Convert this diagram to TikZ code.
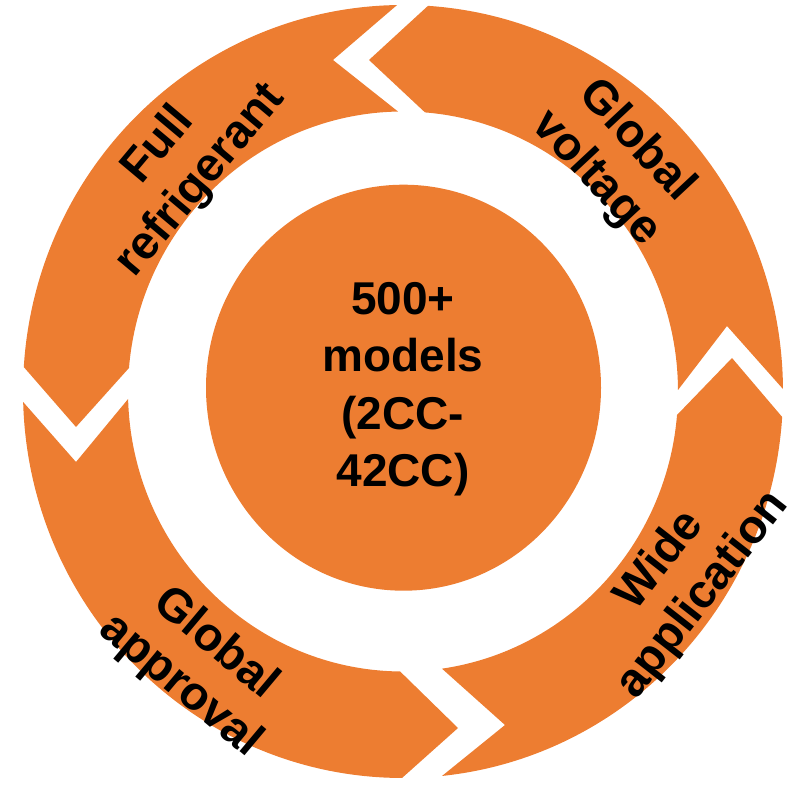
\documentclass[tikz,border=0pt]{standalone}
\usepackage{fontspec}
\setmainfont{Liberation Sans}
\definecolor{segorange}{HTML}{ED7D31}
\begin{document}
\begin{tikzpicture}[x=1pt,y=1pt,
  seg/.style={fill=segorange,draw=none},
  lbl/.style={font=\fontsize{47}{55}\selectfont\bfseries,align=center,text=black,inner sep=0pt},
  ctr/.style={font=\fontsize{46}{57.5}\selectfont\bfseries,align=center,text=black,inner sep=0pt}]
\useasboundingbox (0,0) rectangle (794,785);
\coordinate (c) at (403,393.5);
\def\Ro{380 and 386.5}
\def\Ri{275 and 280}
% Global voltage (top right)
\path[seg] (369,725) -- ([shift={(c)}]86.23:\Ro)
  arc[start angle=86.23,end angle=0.37,x radius=380,y radius=386.5]
  -- (727,459) -- ([shift={(c)}]0.31:\Ri)
  arc[start angle=0.31,end angle=85.41,x radius=275,y radius=280] -- cycle;
% Wide application (bottom right)
\path[seg] (732,427) -- ([shift={(c)}]-3.78:\Ro)
  arc[start angle=-3.78,end angle=-84.1,x radius=380,y radius=386.5]
  -- (505,60) -- ([shift={(c)}]-81.85:\Ri)
  arc[start angle=-81.85,end angle=-4.81,x radius=275,y radius=280] -- cycle;
% Global approval (bottom left)
\path[seg] (458,57) -- ([shift={(c)}]-90.15:\Ro)
  arc[start angle=-90.15,end angle=-178.44,x radius=380,y radius=386.5]
  -- (76,323) -- ([shift={(c)}]-178.47:\Ri)
  arc[start angle=-178.47,end angle=-90.6,x radius=275,y radius=280] -- cycle;
% Full refrigerant (top left)
\path[seg] (76,358) -- ([shift={(c)}]176.37:\Ro)
  arc[start angle=176.37,end angle=90.9,x radius=380,y radius=386.5]
  -- (333,725) -- ([shift={(c)}]91.04:\Ri)
  arc[start angle=91.04,end angle=175.18,x radius=275,y radius=280] -- cycle;
% center circle
\fill[segorange] (403.5,397.3) ellipse[x radius=197.5,y radius=203];
\node[ctr] (center) at (403,396) {500+\\models\\(2CC-\\42CC)};
\node[lbl,rotate=50] (full) at (180,622) {Full\\refrigerant};
\node[lbl,rotate=-47] (voltage) at (616,625) {Global\\voltage};
\node[lbl,rotate=52] (wide) at (682,207) {Wide\\application};
\node[lbl,rotate=-40] (approval) at (198,120) {Global\\approval};
\end{tikzpicture}
\end{document}
